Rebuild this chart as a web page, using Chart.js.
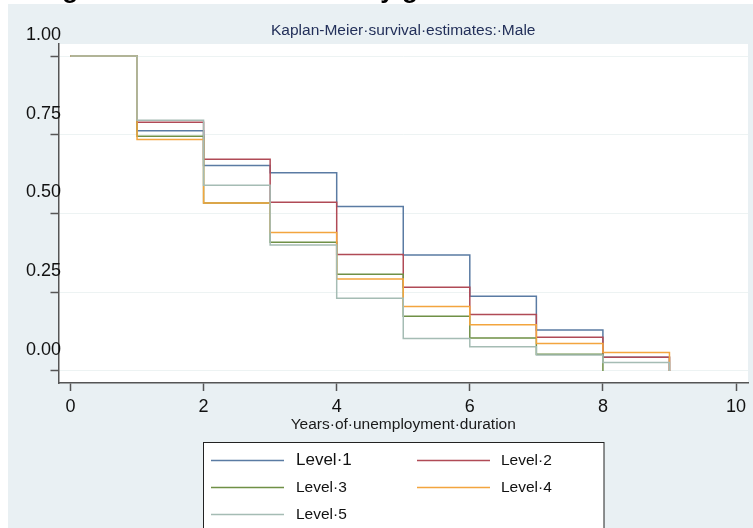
<!DOCTYPE html>
<html><head><meta charset="utf-8">
<script src="https://cdn.jsdelivr.net/npm/chart.js@4.4.0/dist/chart.umd.min.js"></script>
<style>html,body{margin:0;padding:0;background:#fff;}#wrap{width:753px;height:528px;}</style>
</head><body><div id="wrap"><canvas id="c" width="753" height="528"></canvas></div>
<script>
const years = [0,1,2,3,4,5,6,7,8,9];
const level1 = [1.000,0.763,0.652,0.629,0.522,0.368,0.237,0.130,0.044,0];
const level2 = [1.000,0.790,0.672,0.536,0.370,0.266,0.179,0.107,0.044,0];
const level3 = [1.000,0.745,0.533,0.409,0.307,0.174,0.105,0.053,0];
const level4 = [1.000,0.735,0.533,0.440,0.292,0.205,0.147,0.087,0.059,0];
const level5 = [1.000,0.796,0.590,0.400,0.231,0.103,0.077,0.051,0.027,0];
const seriesLabels = ['Level·1','Level·2','Level·3','Level·4','Level·5'];
const xTicks = [0,2,4,6,8,10];
const yTicks = [0,0.25,0.5,0.75,1];
const yTickLabels = ['0.00','0.25','0.50','0.75','1.00'];
const chartTitle = 'Kaplan-Meier·survival·estimates:·Male';
const xTitle = 'Years·of·unemployment·duration';
const headingText = 'Using the survival estimates by gender';

const seriesValues = [level1, level2, level3, level4, level5];
const seriesColors = ['#5a7ba3','#b04a56','#6f9046','#f3a53e','#a5bcb4'];
const FONT = '"Liberation Sans", Arial, sans-serif';
Chart.defaults.font.family = FONT;

const bgPlugin = {
  id: 'bg',
  beforeDraw(chart) {
    const ctx = chart.ctx, a = chart.chartArea;
    ctx.save();
    ctx.fillStyle = '#ffffff';
    ctx.fillRect(0, 0, chart.width, chart.height);
    ctx.fillStyle = '#000';
    ctx.font = 'bold 26px ' + FONT;
    ctx.textBaseline = 'alphabetic';
    ctx.textAlign = 'left';
    ctx.fillText(headingText, 6, -2.5);
    ctx.fillStyle = '#e9f0f3';
    ctx.fillRect(8, 4, chart.width - 8, chart.height - 4);
    ctx.fillStyle = '#ffffff';
    ctx.fillRect(a.left, a.top, a.right - a.left, a.bottom - a.top);
    ctx.restore();
  }
};

const legendPlugin = {
  id: 'boxLegend',
  afterDraw(chart) {
    const ctx = chart.ctx;
    ctx.save();
    const bx = 203.5, by = 442.5, bw = 400.5, bh = 100;
    ctx.fillStyle = '#fff';
    ctx.fillRect(bx, by, bw, bh);
    ctx.strokeStyle = '#222';
    ctx.lineWidth = 1;
    ctx.strokeRect(bx, by, bw, bh);
    const cols = [{lx: 211, tx: 296}, {lx: 417, tx: 501}];
    const rows = [460.5, 487.5, 514.5];
    chart.data.datasets.forEach((ds, i) => {
      const c = cols[i % 2], y = rows[Math.floor(i / 2)];
      ctx.strokeStyle = ds.borderColor;
      ctx.lineWidth = 1.4;
      ctx.beginPath(); ctx.moveTo(c.lx, y); ctx.lineTo(c.lx + 73, y); ctx.stroke();
      ctx.fillStyle = '#111';
      ctx.font = (i === 0 ? '17px ' : '15.5px ') + FONT;
      ctx.textBaseline = 'middle';
      ctx.textAlign = 'left';
      ctx.fillText(ds.label, c.tx, y);
    });
    ctx.restore();
  }
};

const datasets = seriesValues.map((vals, s) => ({
  label: seriesLabels[s],
  data: vals.map((v, i) => ({x: years[i], y: v})),
  borderColor: seriesColors[s],
  borderWidth: 1.5,
  pointRadius: 0,
  fill: false,
  stepped: true,
  tension: 0,
  order: 5 - s
}));

new Chart(document.getElementById('c'), {
  type: 'line',
  data: {datasets},
  plugins: [bgPlugin, legendPlugin],
  options: {
    responsive: false,
    animation: false,
    devicePixelRatio: 1,
    layout: {padding: {left: 0, right: 5, top: 4, bottom: 85}},
    plugins: {
      legend: {display: false},
      tooltip: {enabled: false},
      title: {
        display: true, text: chartTitle, fullSize: false,
        color: '#23305a', font: {size: 15.5, weight: 'normal'},
        padding: {top: 17.7, bottom: 3.7}
      }
    },
    scales: {
      x: {
        type: 'linear', min: -0.18, max: 10.18,
        afterBuildTicks: s => { s.ticks = xTicks.map(v => ({value: v})); },
        afterFit: s => { s.height = 60; },
        ticks: {callback: v => String(v), font: {size: 18}, color: '#111', padding: 5, maxRotation: 0, autoSkip: false},
        grid: {drawOnChartArea: false, tickColor: '#555', tickLength: 8, tickWidth: 1.5},
        border: {color: '#555', width: 1.5},
        title: {display: true, text: xTitle, font: {size: 15.5}, color: '#1a1a1a', padding: {top: 0, bottom: 8.7}}
      },
      y: {
        type: 'linear', min: -0.0381, max: 1.0381,
        afterBuildTicks: s => { s.ticks = yTicks.map(v => ({value: v})); },
        afterFit: s => { s.width = 58.5; },
        ticks: {callback: v => yTickLabels[yTicks.indexOf(v)], font: {size: 18}, color: '#111', mirror: true, padding: -32.5, labelOffset: -21, autoSkip: false},
        grid: {color: '#edf3f3', lineWidth: 1, tickColor: '#555', tickLength: 8, tickWidth: 1.5},
        border: {color: '#555', width: 1.5}
      }
    }
  }
});
</script></body></html>
